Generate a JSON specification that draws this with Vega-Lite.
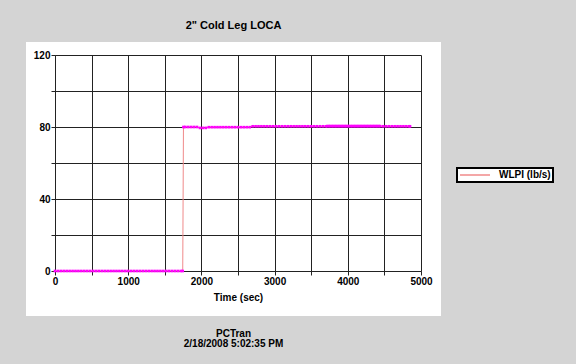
{
  "$schema": "https://vega.github.io/schema/vega-lite/v6.json",
  "width": 415,
  "height": 274,
  "autosize": {"type": "none"},
  "padding": {"left": 26, "top": 42, "right": 135, "bottom": 48},
  "background": "#d4d4d4",
  "config": {
    "view": {"fill": "white", "stroke": null},
    "font": "Liberation Sans",
    "legend": {"strokeWidth": 2}
  },
  "title": {
    "text": "2\" Cold Leg LOCA",
    "fontSize": 11,
    "fontWeight": "bold",
    "color": "black",
    "anchor": "middle",
    "frame": "group",
    "offset": 11,
    "font": "Liberation Sans"
  },
  "data": {
    "values": [
      {"t": 0, "v": 0}, {"t": 40, "v": 0}, {"t": 80, "v": 0}, {"t": 120, "v": 0}, {"t": 160, "v": 0},
      {"t": 200, "v": 0}, {"t": 240, "v": 0}, {"t": 280, "v": 0}, {"t": 320, "v": 0}, {"t": 360, "v": 0},
      {"t": 400, "v": 0}, {"t": 440, "v": 0}, {"t": 480, "v": 0}, {"t": 520, "v": 0}, {"t": 560, "v": 0},
      {"t": 600, "v": 0}, {"t": 640, "v": 0}, {"t": 680, "v": 0}, {"t": 720, "v": 0}, {"t": 760, "v": 0},
      {"t": 800, "v": 0}, {"t": 840, "v": 0}, {"t": 880, "v": 0}, {"t": 920, "v": 0}, {"t": 960, "v": 0},
      {"t": 1000, "v": 0}, {"t": 1040, "v": 0}, {"t": 1080, "v": 0}, {"t": 1120, "v": 0}, {"t": 1160, "v": 0},
      {"t": 1200, "v": 0}, {"t": 1240, "v": 0}, {"t": 1280, "v": 0}, {"t": 1320, "v": 0}, {"t": 1360, "v": 0},
      {"t": 1400, "v": 0}, {"t": 1440, "v": 0}, {"t": 1480, "v": 0}, {"t": 1520, "v": 0}, {"t": 1560, "v": 0},
      {"t": 1600, "v": 0}, {"t": 1640, "v": 0}, {"t": 1680, "v": 0}, {"t": 1720, "v": 0}, {"t": 1745, "v": 0},
      {"t": 1755, "v": 80}, {"t": 1780, "v": 80}, {"t": 1820, "v": 80}, {"t": 1860, "v": 80}, {"t": 1900, "v": 80},
      {"t": 1940, "v": 80}, {"t": 1980, "v": 79.5}, {"t": 2020, "v": 79.5}, {"t": 2060, "v": 79.5},
      {"t": 2100, "v": 79.9}, {"t": 2140, "v": 79.9}, {"t": 2180, "v": 79.9}, {"t": 2220, "v": 79.9}, {"t": 2260, "v": 79.9},
      {"t": 2300, "v": 79.9}, {"t": 2340, "v": 79.9}, {"t": 2380, "v": 79.9}, {"t": 2420, "v": 79.9}, {"t": 2460, "v": 79.9},
      {"t": 2500, "v": 79.9}, {"t": 2540, "v": 79.9}, {"t": 2580, "v": 79.9}, {"t": 2620, "v": 79.9}, {"t": 2660, "v": 79.9},
      {"t": 2700, "v": 80.4}, {"t": 2740, "v": 80.4}, {"t": 2780, "v": 80.4}, {"t": 2820, "v": 80.4}, {"t": 2860, "v": 80.4},
      {"t": 2900, "v": 80.4}, {"t": 2940, "v": 80.4}, {"t": 2980, "v": 80.4}, {"t": 3020, "v": 80.4}, {"t": 3060, "v": 80.4},
      {"t": 3100, "v": 80.4}, {"t": 3140, "v": 80.4}, {"t": 3180, "v": 80.4}, {"t": 3220, "v": 80.4}, {"t": 3260, "v": 80.4},
      {"t": 3300, "v": 80.4}, {"t": 3340, "v": 80.4}, {"t": 3380, "v": 80.4}, {"t": 3420, "v": 80.4}, {"t": 3460, "v": 80.4},
      {"t": 3500, "v": 80.4}, {"t": 3540, "v": 80.4}, {"t": 3580, "v": 80.4}, {"t": 3620, "v": 80.4}, {"t": 3660, "v": 80.4},
      {"t": 3700, "v": 80.4}, {"t": 3720, "v": 80.5}, {"t": 3740, "v": 80.5}, {"t": 3760, "v": 80.5}, {"t": 3780, "v": 80.5},
      {"t": 3800, "v": 80.5}, {"t": 3820, "v": 80.5}, {"t": 3840, "v": 80.5}, {"t": 3860, "v": 80.5}, {"t": 3880, "v": 80.5},
      {"t": 3900, "v": 80.5}, {"t": 3920, "v": 80.5}, {"t": 3940, "v": 80.5}, {"t": 3960, "v": 80.5}, {"t": 3980, "v": 80.5},
      {"t": 4000, "v": 80.5}, {"t": 4020, "v": 80.5}, {"t": 4040, "v": 80.5}, {"t": 4060, "v": 80.5}, {"t": 4080, "v": 80.5},
      {"t": 4100, "v": 80.5}, {"t": 4120, "v": 80.5}, {"t": 4140, "v": 80.5}, {"t": 4160, "v": 80.5}, {"t": 4180, "v": 80.5},
      {"t": 4200, "v": 80.5}, {"t": 4220, "v": 80.5}, {"t": 4240, "v": 80.5}, {"t": 4260, "v": 80.5}, {"t": 4280, "v": 80.5},
      {"t": 4300, "v": 80.5}, {"t": 4320, "v": 80.5}, {"t": 4340, "v": 80.5}, {"t": 4360, "v": 80.5}, {"t": 4380, "v": 80.5},
      {"t": 4400, "v": 80.5}, {"t": 4420, "v": 80.5}, {"t": 4440, "v": 80.5}, {"t": 4480, "v": 80.4}, {"t": 4520, "v": 80.4},
      {"t": 4560, "v": 80.4}, {"t": 4600, "v": 80.4}, {"t": 4640, "v": 80.4}, {"t": 4680, "v": 80.4}, {"t": 4720, "v": 80.4},
      {"t": 4760, "v": 80.4}, {"t": 4800, "v": 80.4}, {"t": 4840, "v": 80.4}, {"t": 4850, "v": 80.4}
    ]
  },
  "resolve": {"axis": {"x": "independent", "y": "independent"}},
  "layer": [
    {
      "mark": {"type": "line", "strokeWidth": 1},
      "encoding": {
        "x": {
          "field": "t",
          "type": "quantitative",
          "scale": {"domain": [0, 5000], "range": [29, 395], "nice": false, "zero": false},
          "axis": {
            "orient": "bottom",
            "values": [0, 500, 1000, 1500, 2000, 2500, 3000, 3500, 4000, 4500, 5000],
            "format": "d",
            "labelExpr": "datum.value % 1000 === 0 ? datum.label : ''",
            "offset": -45,
            "grid": false,
            "domainColor": "#222222",
            "tickColor": "#222222",
            "tickSize": 4,
            "labelFont": "Liberation Sans",
            "labelFontSize": 10,
            "labelFontWeight": "bold",
            "labelColor": "black",
            "labelPadding": 1,
            "labelFlush": false,
            "labelOverlap": false,
            "title": "Time (sec)",
            "titleFont": "Liberation Sans",
            "titleFontSize": 10,
            "titleFontWeight": "bold",
            "titleColor": "black",
            "titlePadding": 6
          }
        },
        "y": {
          "field": "v",
          "type": "quantitative",
          "scale": {"domain": [0, 120], "range": [229, 13], "nice": false, "zero": false},
          "axis": {
            "orient": "left",
            "values": [0, 20, 40, 60, 80, 100, 120],
            "labelExpr": "datum.value % 40 === 0 ? datum.label : ''",
            "offset": -29,
            "grid": false,
            "domainColor": "#222222",
            "tickColor": "#222222",
            "tickSize": 4,
            "labelFont": "Liberation Sans",
            "labelFontSize": 10,
            "labelFontWeight": "bold",
            "labelColor": "black",
            "labelPadding": 1,
            "labelOverlap": false,
            "title": null
          }
        },
        "color": {
          "datum": "WLPI (lb/s)",
          "type": "nominal",
          "scale": {"range": ["#f08a8a"]},
          "legend": {
            "orient": "none",
            "legendX": 431,
            "legendY": 126,
            "title": null,
            "fillColor": "white",
            "strokeColor": "black",
            "padding": 2,
            "clipHeight": 10,
            "symbolType": "stroke",
            "symbolSize": 900,
            "symbolStrokeWidth": 1.5,
            "labelFont": "Liberation Sans",
            "labelFontSize": 10,
            "labelFontWeight": "bold",
            "labelColor": "black",
            "labelOffset": 8
          }
        }
      }
    },
    {
      "mark": {"type": "point", "filled": true, "shape": "square", "size": 7, "color": "#ff00ff", "opacity": 1},
      "encoding": {
        "x": {
          "field": "t",
          "type": "quantitative",
          "axis": {
            "orient": "bottom",
            "values": [0, 500, 1000, 1500, 2000, 2500, 3000, 3500, 4000, 4500, 5000],
            "offset": -45,
            "grid": false,
            "domain": false,
            "labels": false,
            "tickColor": "#222222",
            "tickSize": -216,
            "title": ["PCTran", "2/18/2008 5:02:35 PM"],
            "titleFont": "Liberation Sans",
            "titleFontSize": 10,
            "titleFontWeight": "bold",
            "titleColor": "black",
            "titleLineHeight": 10,
            "titleX": 207,
            "titleY": 57,
            "titleAlign": "center",
            "titleBaseline": "top"
          }
        },
        "y": {
          "field": "v",
          "type": "quantitative",
          "axis": {
            "orient": "left",
            "values": [0, 20, 40, 60, 80, 100, 120],
            "offset": -29,
            "grid": false,
            "domain": false,
            "labels": false,
            "tickColor": "#222222",
            "tickSize": -366,
            "title": null
          }
        }
      }
    }
  ]
}
